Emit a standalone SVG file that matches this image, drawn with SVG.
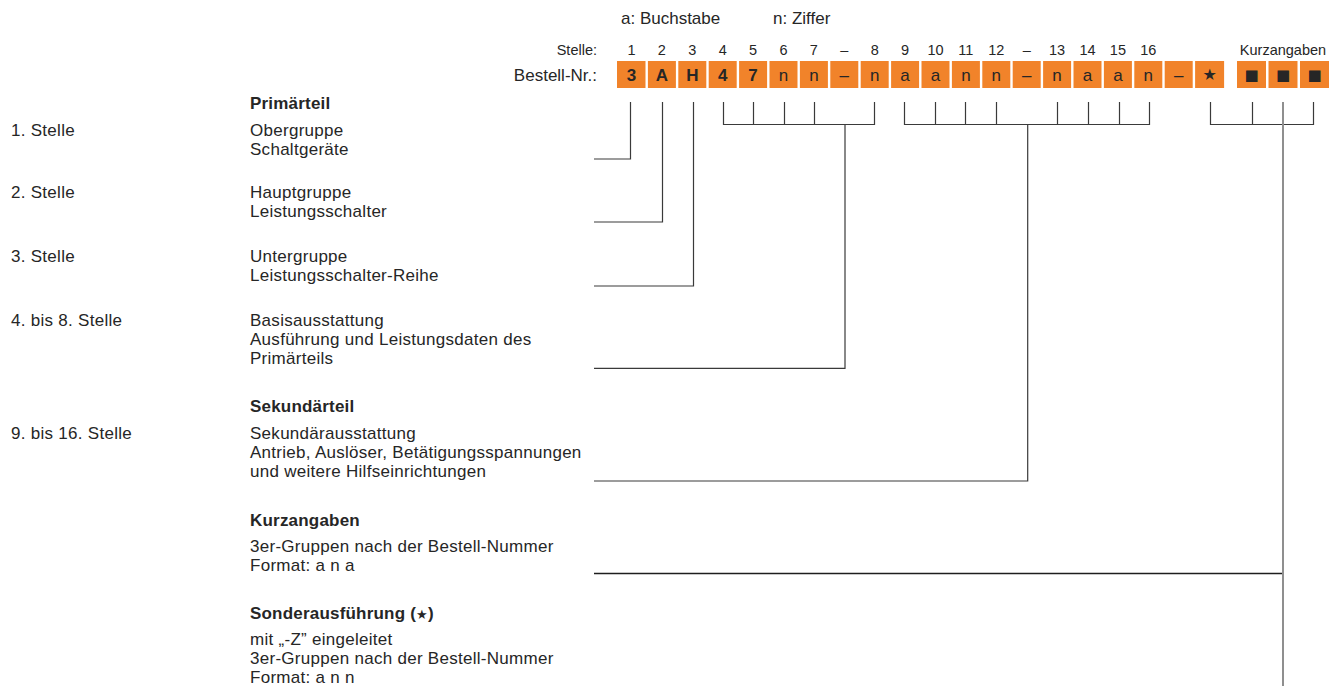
<svg xmlns="http://www.w3.org/2000/svg" width="1339" height="686" viewBox="0 0 1339 686">
<style>
text{font-family:"Liberation Sans",Arial,sans-serif;fill:#262626;}
.t{font-size:17px;letter-spacing:0.28px;}
.u{font-size:17px;}
.b{font-size:17px;font-weight:bold;letter-spacing:0.2px;}
.s{font-size:14.5px;text-anchor:middle;}
.bx{fill:#F1832A;}
.bt{font-size:17px;text-anchor:middle;}
.bb{font-size:17px;font-weight:bold;text-anchor:middle;}
.sym{font-family:"DejaVu Sans",sans-serif;text-anchor:middle;}
.ln{fill:none;stroke:#3a3a3a;stroke-width:1.2;}
.lk{fill:none;stroke:#1e1e1e;stroke-width:1.3;}
.lg{fill:none;stroke:#8f8f8f;stroke-width:2;}
</style>

<g id="legend">
<text class="u" x="621" y="24">a: Buchstabe</text>
<text class="u" x="773" y="24">n: Ziffer</text>
</g>

<g id="stelle-row">
<text x="597" y="55" style="font-size:14.5px" text-anchor="end">Stelle:</text>
<text class="s" x="631.5" y="55">1</text>
<text class="s" x="661.9" y="55">2</text>
<text class="s" x="692.3" y="55">3</text>
<text class="s" x="722.7" y="55">4</text>
<text class="s" x="753.1" y="55">5</text>
<text class="s" x="783.5" y="55">6</text>
<text class="s" x="813.9" y="55">7</text>
<text class="s" x="844.3" y="55">–</text>
<text class="s" x="874.7" y="55">8</text>
<text class="s" x="905.1" y="55">9</text>
<text class="s" x="935.5" y="55">10</text>
<text class="s" x="965.9" y="55">11</text>
<text class="s" x="996.3" y="55">12</text>
<text class="s" x="1026.7" y="55">–</text>
<text class="s" x="1057.1" y="55">13</text>
<text class="s" x="1087.5" y="55">14</text>
<text class="s" x="1117.9" y="55">15</text>
<text class="s" x="1148.3" y="55">16</text>
<text class="s" x="1283" y="55">Kurzangaben</text>
</g>

<g id="bestell-nr">
<text class="u" x="597" y="80.5" text-anchor="end">Bestell-Nr.:</text>
<rect class="bx" x="617" y="61" width="28.5" height="27"/>
<rect class="bx" x="647.9" y="61" width="28" height="27"/>
<rect class="bx" x="678.3" y="61" width="28" height="27"/>
<rect class="bx" x="708.7" y="61" width="28" height="27"/>
<rect class="bx" x="739.1" y="61" width="28" height="27"/>
<rect class="bx" x="769.5" y="61" width="28" height="27"/>
<rect class="bx" x="799.9" y="61" width="28" height="27"/>
<rect class="bx" x="830.3" y="61" width="28" height="27"/>
<rect class="bx" x="860.7" y="61" width="28" height="27"/>
<rect class="bx" x="891.1" y="61" width="28" height="27"/>
<rect class="bx" x="921.5" y="61" width="28" height="27"/>
<rect class="bx" x="951.9" y="61" width="28" height="27"/>
<rect class="bx" x="982.3" y="61" width="28" height="27"/>
<rect class="bx" x="1012.7" y="61" width="28" height="27"/>
<rect class="bx" x="1043.1" y="61" width="28" height="27"/>
<rect class="bx" x="1073.5" y="61" width="28" height="27"/>
<rect class="bx" x="1103.9" y="61" width="28" height="27"/>
<rect class="bx" x="1134.3" y="61" width="28" height="27"/>
<rect class="bx" x="1164.7" y="61" width="28" height="27"/>
<rect class="bx" x="1195.1" y="61" width="29" height="27"/>
<rect class="bx" x="1237" y="61" width="29" height="27"/>
<rect class="bx" x="1268.5" y="61" width="29" height="27"/>
<rect class="bx" x="1300" y="61" width="29" height="27"/>
<text class="bb" x="631.5" y="80.5">3</text>
<text class="bb" x="661.9" y="80.5">A</text>
<text class="bb" x="692.3" y="80.5">H</text>
<text class="bb" x="722.7" y="80.5">4</text>
<text class="bb" x="753.1" y="80.5">7</text>
<text class="bt" x="783.5" y="80.5">n</text>
<text class="bt" x="813.9" y="80.5">n</text>
<text class="bt" x="844.3" y="80.5">–</text>
<text class="bt" x="874.7" y="80.5">n</text>
<text class="bt" x="905.1" y="80.5">a</text>
<text class="bt" x="935.5" y="80.5">a</text>
<text class="bt" x="965.9" y="80.5">n</text>
<text class="bt" x="996.3" y="80.5">n</text>
<text class="bt" x="1026.7" y="80.5">–</text>
<text class="bt" x="1057.1" y="80.5">n</text>
<text class="bt" x="1087.5" y="80.5">a</text>
<text class="bt" x="1117.9" y="80.5">a</text>
<text class="bt" x="1148.3" y="80.5">n</text>
<text class="bt" x="1178.7" y="80.5">–</text>
<text class="sym" x="1209.6" y="80" style="font-size:16px">★</text>
<text class="sym" x="1251.5" y="80" style="font-size:15px">■</text>
<text class="sym" x="1283" y="80" style="font-size:15px">■</text>
<text class="sym" x="1314.5" y="80" style="font-size:15px">■</text>
</g>

<g id="stelle-1">
<text class="b" x="250" y="109">Primärteil</text>
<text class="t" x="11" y="135.5">1. Stelle</text>
<text class="t" x="250" y="135.5">Obergruppe</text>
<text class="t" x="250" y="154.5">Schaltgeräte</text>
</g>
<g id="stelle-2">
<text class="t" x="11" y="198">2. Stelle</text>
<text class="t" x="250" y="198">Hauptgruppe</text>
<text class="t" x="250" y="217">Leistungsschalter</text>
</g>
<g id="stelle-3">
<text class="t" x="11" y="261.5">3. Stelle</text>
<text class="t" x="250" y="261.5">Untergruppe</text>
<text class="t" x="250" y="280.5">Leistungsschalter-Reihe</text>
</g>
<g id="stelle-4-8">
<text class="t" x="11" y="326">4. bis 8. Stelle</text>
<text class="t" x="250" y="326">Basisausstattung</text>
<text class="t" x="250" y="345">Ausführung und Leistungsdaten des</text>
<text class="t" x="250" y="364">Primärteils</text>
</g>
<g id="stelle-9-16">
<text class="b" x="250" y="411.5">Sekundärteil</text>
<text class="t" x="11" y="439">9. bis 16. Stelle</text>
<text class="t" x="250" y="439">Sekundärausstattung</text>
<text class="t" x="250" y="458">Antrieb, Auslöser, Betätigungsspannungen</text>
<text class="t" x="250" y="477">und weitere Hilfseinrichtungen</text>
</g>
<g id="kurzangaben">
<text class="b" x="250" y="525.5">Kurzangaben</text>
<text class="t" x="250" y="552">3er-Gruppen nach der Bestell-Nummer</text>
<text class="t" x="250" y="571">Format: a n a</text>
</g>
<g id="sonderausfuehrung">
<text class="b" x="250" y="619">Sonderausführung (<tspan style="font-family:'DejaVu Sans',sans-serif;font-weight:normal;font-size:13px">★</tspan>)</text>
<text class="t" x="250" y="645">mit „-Z” eingeleitet</text>
<text class="t" x="250" y="664">3er-Gruppen nach der Bestell-Nummer</text>
<text class="t" x="250" y="683">Format: a n n</text>
</g>

<g id="connectors">
<polyline class="ln" points="594,159 630.5,159 630.5,102"/>
<polyline class="ln" points="594,222 662.5,222 662.5,102"/>
<polyline class="ln" points="594,286 693.5,286 693.5,102"/>
<path class="ln" d="M723.5,102V124.5H874.5V102M753.5,102V124.5M784.5,102V124.5M814.5,102V124.5M845,124.5V368.3H594"/>
<path class="ln" d="M904.5,102V124.5H1149.5V102M935.5,102V124.5M965.5,102V124.5M996.5,102V124.5M1057.5,102V124.5M1088.5,102V124.5M1119.5,102V124.5M1027.7,124.5V481H594"/>
<path class="ln" d="M1210.5,102V124.5H1313.5V102M1252.5,102V124.5"/>
<line class="lk" x1="594" y1="573.5" x2="1283" y2="573.5"/>
<line class="lg" x1="1283" y1="102" x2="1283" y2="686"/>
</g>
</svg>
